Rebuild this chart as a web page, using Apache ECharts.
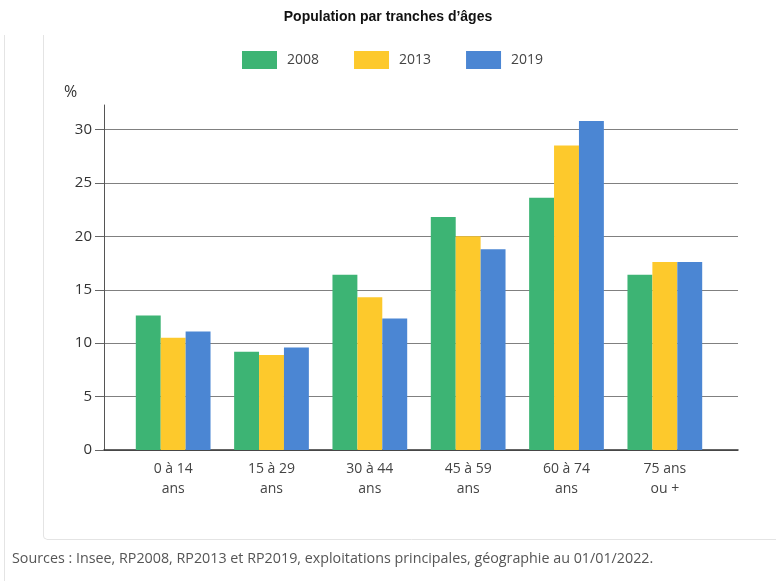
<!DOCTYPE html>
<html>
<head>
<meta charset="utf-8">
<script src="https://cdn.jsdelivr.net/npm/echarts@6/dist/echarts.min.js"></script>
<style>
  html, body { margin: 0; padding: 0; background: #fff; }
  #chart { width: 776px; height: 581px; }
</style>
</head>
<body>
<div id="chart"></div>
<script>
// Age brackets and the share of the population (%) in each census year
const categories = ['0 à 14\nans', '15 à 29\nans', '30 à 44\nans', '45 à 59\nans', '60 à 74\nans', '75 ans\nou +'];
const years = ['2008', '2013', '2019'];
const values2008 = [12.6, 9.2, 16.4, 21.8, 23.6, 16.4];
const values2013 = [10.5, 8.9, 14.3, 20.0, 28.5, 17.6];
const values2019 = [11.1, 9.6, 12.3, 18.8, 30.8, 17.6];
const yTicks = { min: 0, max: 30, interval: 5 };

const colors = ['#3db474', '#fdc92c', '#4b86d3'];
const seriesValues = [values2008, values2013, values2019];
const font = '"Open Sans", "Noto Sans", sans-serif';

const chart = echarts.init(document.getElementById('chart'), null, { renderer: 'canvas' });

chart.setOption({
  backgroundColor: '#ffffff',
  animation: false,
  title: {
    text: 'Population par tranches d\u2019âges',
    left: 'center',
    top: 5,
    textStyle: { fontFamily: '"Liberation Sans", sans-serif', fontWeight: 'bold', fontSize: 14, color: '#111' }
  },
  legend: {
    data: years,
    left: 242,
    top: 51,
    padding: 0,
    itemWidth: 35,
    itemHeight: 18,
    itemGap: 35,
    icon: 'rect',
    textStyle: { fontFamily: font, fontSize: 14, color: '#444', padding: [0, 0, 0, 5] }
  },
  graphic: [
    // panel frame around the chart
    { type: 'line', shape: { x1: 4.5, y1: 35, x2: 4.5, y2: 581 }, style: { stroke: '#e4e4e4', lineWidth: 1 }, z: -1 },
    { type: 'line', shape: { x1: 43.5, y1: 35, x2: 43.5, y2: 536 }, style: { stroke: '#e4e4e4', lineWidth: 1 }, z: -1 },
    { type: 'arc', shape: { cx: 46.5, cy: 536, r: 3, startAngle: Math.PI / 2, endAngle: Math.PI }, style: { stroke: '#e4e4e4', fill: null, lineWidth: 1 }, z: -1 },
    { type: 'line', shape: { x1: 46.5, y1: 539.5, x2: 776, y2: 539.5 }, style: { stroke: '#e4e4e4', lineWidth: 1 }, z: -1 },
    {
      type: 'text', left: 12, top: 552,
      style: {
        text: 'Sources : Insee, RP2008, RP2013 et RP2019, exploitations principales, géographie au 01/01/2022.',
        font: '14.3px "Open Sans", sans-serif', fill: '#555'
      }
    },
    { type: 'text', left: 64, top: 84, style: { text: '%', font: '16px "Open Sans", sans-serif', fill: '#333' } }
  ],
  grid: [
    // gridlines and tick labels
    { left: 104, right: 38, top: 129.5, bottom: 131, containLabel: false },
    // plotting band for the bars
    { left: 124, right: 62, top: 129.5, bottom: 131, containLabel: false },
    // taller frame carrying the vertical axis line
    { left: 104, right: 38, top: 105, bottom: 131, containLabel: false }
  ],
  xAxis: [
    {
      type: 'category', gridIndex: 0, data: [''],
      axisLine: { show: true, lineStyle: { color: '#333', width: 1.5 } },
      axisTick: { show: false }, axisLabel: { show: false }, splitLine: { show: false }
    },
    {
      type: 'category', gridIndex: 1, data: categories,
      axisLine: { show: false }, axisTick: { show: false },
      axisLabel: { fontFamily: font, fontSize: 14, color: '#444', lineHeight: 20, margin: 9 }
    },
    {
      type: 'category', gridIndex: 2, data: [''], show: false
    }
  ],
  yAxis: [
    {
      type: 'value', gridIndex: 0, min: yTicks.min, max: yTicks.max, interval: yTicks.interval,
      axisLine: { show: false },
      axisTick: { show: true, length: 9, lineStyle: { color: '#666' } },
      axisLabel: { fontFamily: font, fontSize: 15, color: '#333', margin: 12 },
      splitLine: { show: true, lineStyle: { color: '#808080', width: 1 } }
    },
    {
      type: 'value', gridIndex: 1, min: yTicks.min, max: yTicks.max, interval: yTicks.interval,
      show: false, splitLine: { show: false }
    },
    {
      type: 'value', gridIndex: 2, min: 0, max: 1,
      axisLine: { show: true, lineStyle: { color: '#555', width: 1 } },
      axisTick: { show: false }, axisLabel: { show: false }, splitLine: { show: false }
    }
  ],
  series: years.map((y, i) => ({
    name: y,
    type: 'bar',
    xAxisIndex: 1,
    yAxisIndex: 1,
    data: seriesValues[i],
    barGap: '0%',
    barCategoryGap: '24%',
    clip: false,
    itemStyle: { color: colors[i] },
    z: 3
  }))
});
</script>
</body>
</html>
